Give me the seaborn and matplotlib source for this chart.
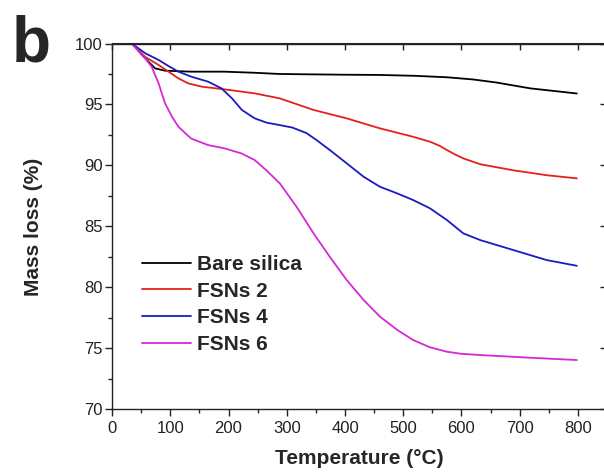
import numpy as np
import pandas as pd
import matplotlib
matplotlib.use("Agg")
import matplotlib.pyplot as plt
from matplotlib.ticker import MultipleLocator
import seaborn as sns

# Thermogravimetric curves: residual mass (%) vs temperature (°C)
bare_silica_t = [34, 57, 74, 91, 136, 193, 245, 288, 340, 400, 460, 520, 575,
                 620, 660, 718, 760, 798]
bare_silica_m = [100.0, 98.78, 97.96, 97.77, 97.69, 97.69, 97.6, 97.5, 97.47,
                 97.44, 97.42, 97.35, 97.23, 97.05, 96.8, 96.32, 96.1, 95.9]

fsns_2_t = [34, 57, 80, 97, 114, 131, 154, 193, 245, 288, 346, 403, 460, 517,
            546, 562, 575, 589, 603, 632, 689, 746, 798]
fsns_2_m = [100.0, 98.9, 98.24, 97.69, 97.14, 96.73, 96.46, 96.24, 95.91, 95.5,
            94.55, 93.86, 93.04, 92.35, 91.94, 91.62, 91.26, 90.9, 90.58, 90.1,
            89.6, 89.2, 88.94]

fsns_4_t = [34, 57, 80, 97, 114, 136, 165, 188, 206, 223, 245, 266, 288, 310,
            334, 352, 374, 403, 432, 460, 490, 517, 546, 575, 603, 632, 689,
            746, 798]
fsns_4_m = [100.0, 99.2, 98.65, 98.15, 97.69, 97.28, 96.87, 96.32, 95.5, 94.55,
            93.86, 93.5, 93.31, 93.1, 92.65, 92.05, 91.26, 90.17, 89.07, 88.25,
            87.7, 87.16, 86.48, 85.52, 84.43, 83.88, 83.06, 82.24, 81.77]

fsns_6_t = [34, 57, 68, 80, 91, 103, 114, 136, 165, 193, 222, 245, 265, 288,
            317, 346, 374, 403, 432, 460, 490, 517, 545, 575, 600, 632, 718, 798]
fsns_6_m = [100.0, 98.78, 98.1, 96.73, 95.1, 94.0, 93.17, 92.2, 91.67, 91.4,
            90.99, 90.44, 89.6, 88.53, 86.6, 84.43, 82.5, 80.6, 78.96, 77.6,
            76.5, 75.68, 75.1, 74.72, 74.55, 74.45, 74.23, 74.04]

series_names = ["Bare silica", "FSNs 2", "FSNs 4", "FSNs 6"]
series_t = [bare_silica_t, fsns_2_t, fsns_4_t, fsns_6_t]
series_m = [bare_silica_m, fsns_2_m, fsns_4_m, fsns_6_m]
series_colors = ["#000000", "#e3201b", "#1a1ac4", "#d42ad4"]

x_ticks = [0, 100, 200, 300, 400, 500, 600, 700, 800]
y_ticks = [70, 75, 80, 85, 90, 95, 100]

df = pd.concat(
    [pd.DataFrame({"Temperature": t, "Mass": m, "Sample": name})
     for name, t, m in zip(series_names, series_t, series_m)],
    ignore_index=True,
)

sns.set_style("ticks")
plt.rcParams["font.family"] = ["Liberation Sans", "DejaVu Sans"]

fig = plt.figure(figsize=(6.04, 4.75), dpi=100)
W, H = 604, 475
x0, x1 = 112, 112 + 850 * 0.5825
y_top, y_bot = 43.5, 409.3
ax = fig.add_axes([x0 / W, 1 - y_bot / H, (x1 - x0) / W, (y_bot - y_top) / H])

sns.lineplot(data=df, x="Temperature", y="Mass", hue="Sample",
             palette=dict(zip(series_names, series_colors)),
             linewidth=1.3, ax=ax, legend=True, sort=True)
for line in ax.get_lines():
    line.set_solid_joinstyle("round")

ax.set_xlim(0, 850)
ax.set_ylim(70, 100)
ax.set_xticks(x_ticks)
ax.set_yticks(y_ticks)
ax.xaxis.set_minor_locator(MultipleLocator(50))
ax.yaxis.set_minor_locator(MultipleLocator(2.5))

for side in ["left", "bottom", "top", "right"]:
    ax.spines[side].set_visible(True)
    ax.spines[side].set_linewidth(1.0)
    ax.spines[side].set_color("#222222")

ax.tick_params(axis="both", which="major", direction="out", length=5,
               width=1.0, color="#222222", labelsize=12, labelcolor="#222222")
ax.tick_params(axis="both", which="minor", direction="out", length=3,
               width=1.0, color="#222222")
ax.tick_params(axis="x", which="major", pad=3.5)
ax.tick_params(axis="y", which="major", pad=1.5)

# inward ticks on the top and right frame
top = ax.secondary_xaxis("top")
top.set_xticks(x_ticks)
top.tick_params(direction="in", length=5, width=1.0, color="#222222", labelsize=0)
top.set_xticklabels([])
right = ax.secondary_yaxis("right")
right.set_yticks(y_ticks)
right.tick_params(direction="in", length=5, width=1.0, color="#222222", labelsize=0)
right.set_yticklabels([])

ax.set_xlabel("Temperature (°C)", fontsize=15, fontweight="bold")
ax.set_ylabel("Mass loss (%)", fontsize=15, fontweight="bold")
ax.xaxis.set_label_coords(0.5, (y_bot - 449) / (y_bot - y_top))
ax.yaxis.set_label_coords((43 - x0) / (x1 - x0), 0.5)

leg = ax.legend(loc="upper left",
                bbox_to_anchor=((142 - x0) / (x1 - x0), (y_bot - 255) / (y_bot - y_top)),
                frameon=False, fontsize=15, handlelength=2.33, handletextpad=0.29,
                labelspacing=0.37, borderpad=0, borderaxespad=0)
for txt in leg.get_texts():
    txt.set_fontweight("bold")

fig.text(12 / W, 1 - 61 / H, "b", fontsize=46, fontweight="bold",
         ha="left", va="baseline")

fig.savefig("out.png", dpi=100)
